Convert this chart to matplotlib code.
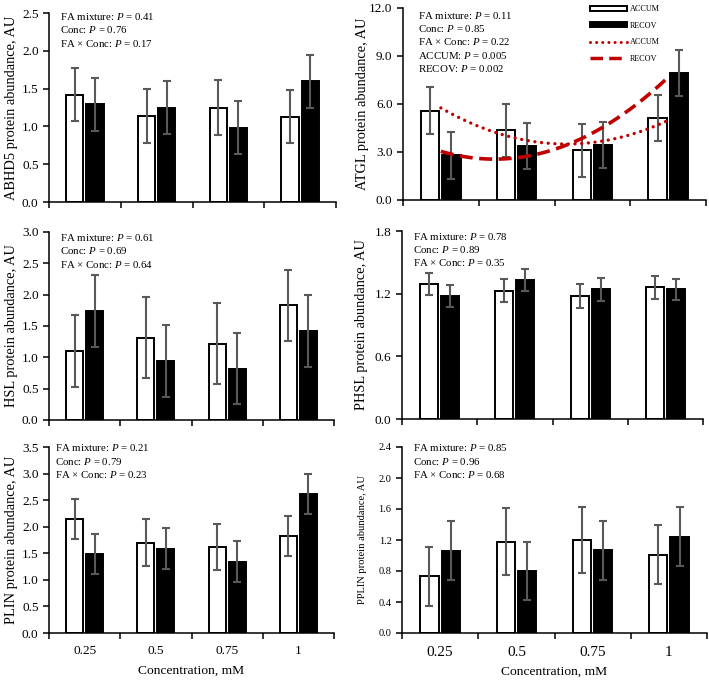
#!/usr/bin/env python
# coding: utf-8

import numpy as np
import matplotlib
matplotlib.use("Agg")
import matplotlib.pyplot as plt
from matplotlib.patches import Patch
from matplotlib.lines import Line2D

#========= DATA ==========================================================#

CONC = ["0.25", "0.5", "0.75", "1"]

ABHD5_ACCUM = [1.42, 1.14, 1.25, 1.13]
ABHD5_ACCUM_SE = [0.35, 0.36, 0.36, 0.35]
ABHD5_RECOV = [1.29, 1.25, 0.98, 1.60]
ABHD5_RECOV_SE = [0.35, 0.35, 0.35, 0.35]

ATGL_ACCUM = [5.59, 4.35, 3.10, 5.14]
ATGL_ACCUM_SE = [1.45, 1.65, 1.64, 1.45]
ATGL_RECOV = [2.79, 3.39, 3.43, 7.92]
ATGL_RECOV_SE = [1.45, 1.44, 1.45, 1.45]

HSL_ACCUM = [1.10, 1.31, 1.22, 1.83]
HSL_ACCUM_SE = [0.57, 0.645, 0.65, 0.57]
HSL_RECOV = [1.74, 0.94, 0.82, 1.42]
HSL_RECOV_SE = [0.57, 0.57, 0.57, 0.57]

PHSL_ACCUM = [1.29, 1.23, 1.18, 1.26]
PHSL_ACCUM_SE = [0.105, 0.108, 0.114, 0.108]
PHSL_RECOV = [1.18, 1.33, 1.24, 1.24]
PHSL_RECOV_SE = [0.105, 0.106, 0.106, 0.105]

PLIN_ACCUM = [2.15, 1.70, 1.62, 1.83]
PLIN_ACCUM_SE = [0.38, 0.44, 0.44, 0.38]
PLIN_RECOV = [1.49, 1.59, 1.34, 2.62]
PLIN_RECOV_SE = [0.38, 0.38, 0.385, 0.38]

PPLIN_ACCUM = [0.73, 1.18, 1.20, 1.01]
PPLIN_ACCUM_SE = [0.38, 0.43, 0.43, 0.38]
PPLIN_RECOV = [1.06, 0.80, 1.07, 1.24]
PPLIN_RECOV_SE = [0.38, 0.38, 0.38, 0.38]

P_ABHD5 = ["FA mixture: $P$ = 0.41", "Conc: $P$ = 0.76", "FA \u00d7 Conc: $P$ = 0.17"]
P_ATGL = ["FA mixture: $P$ = 0.11", "Conc: $P$ = 0.85", "FA \u00d7 Conc: $P$ = 0.22",
          "ACCUM: $P$ = 0.005", "RECOV: $P$ = 0.002"]
P_HSL = ["FA mixture: $P$ = 0.61", "Conc: $P$ = 0.69", "FA \u00d7 Conc: $P$ = 0.64"]
P_PHSL = ["FA mixture: $P$ = 0.78", "Conc: $P$ = 0.89", "FA \u00d7 Conc: $P$ = 0.35"]
P_PLIN = ["FA mixture: $P$ = 0.21", "Conc: $P$ = 0.79", "FA \u00d7 Conc: $P$ = 0.23"]
P_PPLIN = ["FA mixture: $P$ = 0.85", "Conc: $P$ = 0.96", "FA \u00d7 Conc: $P$ = 0.68"]

#========= STYLE =========================================================#

plt.rcParams["font.family"] = ["Liberation Serif", "DejaVu Serif"]
plt.rcParams["mathtext.fontset"] = "custom"
plt.rcParams["mathtext.rm"] = "Liberation Serif"
plt.rcParams["mathtext.it"] = "Liberation Serif:italic"

RED = "#C00000"
GREY = "#595959"
W = 709.0
H = 683.0

#========= PANEL FUNCTION ================================================#

def panel(rect, accum, accum_se, recov, recov_se, ymax, ystep, ylabel, ptext,
          ptext_xy, xlabels=False, fsy=9.5, fsl=10.4, fsx=9.6, fmt="%.1f",
          label_x=-0.108):
    x0, y0, x1, y1 = rect
    ax = fig.add_axes([x0/W, 1-y1/H, (x1-x0)/W, (y1-y0)/H])
    x = np.arange(1, len(CONC)+1)
    ax.bar(x-0.14, accum, 0.24, color="white", edgecolor="black", linewidth=1.4, zorder=2)
    ax.bar(x+0.14, recov, 0.24, color="black", edgecolor="black", linewidth=1.4, zorder=2)
    ax.errorbar(x-0.14, accum, yerr=accum_se, fmt="none", ecolor=GREY, elinewidth=1.5,
                capsize=3, capthick=1.5, zorder=3)
    ax.errorbar(x+0.14, recov, yerr=recov_se, fmt="none", ecolor=GREY, elinewidth=1.5,
                capsize=3, capthick=1.5, zorder=3)
    ax.set_xlim(0.5, len(CONC)+0.5)
    ax.set_ylim(0, ymax)
    ax.set_yticks(np.arange(0, ymax+ystep/2, ystep))
    ax.set_yticklabels([fmt % v for v in np.arange(0, ymax+ystep/2, ystep)], fontsize=fsy)
    ax.set_xticks(np.arange(0.5, len(CONC)+1, 1.0))
    ax.set_xticklabels([])
    ax.set_xticks(x, minor=True)
    ax.tick_params(axis="x", which="minor", length=0, pad=9)
    ax.tick_params(axis="both", which="major", direction="out", length=4, width=1.1,
                   color="black")
    if xlabels:
        ax.set_xticklabels(CONC, minor=True, fontsize=fsx)
        ax.set_xlabel("Concentration, mM", fontsize=9.7, labelpad=5)
    for s in ["top", "right"]:
        ax.spines[s].set_visible(False)
    for s in ["left", "bottom"]:
        ax.spines[s].set_linewidth(1.1)
    ax.set_ylabel(ylabel, fontsize=fsl)
    ax.yaxis.set_label_coords(label_x, 0.5)
    ax.text(ptext_xy[0], ptext_xy[1], "\n".join(ptext), transform=ax.transAxes,
            fontsize=7.8, va="top", ha="left", linespacing=1.25)
    return ax

#========= FIGURE ========================================================#

fig = plt.figure(figsize=(7.09, 6.83), dpi=100)

panel((49, 13, 336, 202), ABHD5_ACCUM, ABHD5_ACCUM_SE, ABHD5_RECOV, ABHD5_RECOV_SE,
      2.5, 0.5, "ABHD5 protein abundance, AU", P_ABHD5, (0.04, 1.01))

ax = panel((403, 8, 706, 200), ATGL_ACCUM, ATGL_ACCUM_SE, ATGL_RECOV, ATGL_RECOV_SE,
           12.0, 3.0, "ATGL protein abundance, AU", P_ATGL, (0.05, 0.99),
           label_x=-0.112)
# quadratic trend lines (Excel-style polynomial fit of the means)
xs = np.arange(1, len(CONC)+1)
xf = np.linspace(1, len(CONC), 100)
ax.plot(xf, np.polyval(np.polyfit(xs, ATGL_ACCUM, 2), xf), color=RED, linewidth=2.4,
        linestyle=(0, (0.01, 2.0)), dash_capstyle="round", zorder=4)
ax.plot(xf, np.polyval(np.polyfit(xs, ATGL_RECOV, 2), xf), color=RED, linewidth=2.6,
        linestyle=(0, (3.6, 1.8)), zorder=4)
handles = [Patch(facecolor="white", edgecolor="black", linewidth=1.4),
           Patch(facecolor="black", edgecolor="black", linewidth=1.4),
           Line2D([], [], color=RED, linewidth=2.2, linestyle=(0, (0.01, 2.0)),
                  dash_capstyle="round"),
           Line2D([], [], color=RED, linewidth=2.5, linestyle=(0, (3.6, 1.8)))]
fig.legend(handles, ["ACCUM", "RECOV", "ACCUM", "RECOV"], loc="upper left",
           bbox_to_anchor=(586/W, 1-1/H), frameon=False, fontsize=5.9, borderpad=0,
           handlelength=4.5, handleheight=0.6, handletextpad=0.4, labelspacing=1.05)

panel((49, 232, 334, 420), HSL_ACCUM, HSL_ACCUM_SE, HSL_RECOV, HSL_RECOV_SE,
      3.0, 0.5, "HSL protein abundance, AU", P_HSL, (0.04, 1.0))

panel((402, 231, 703, 419), PHSL_ACCUM, PHSL_ACCUM_SE, PHSL_RECOV, PHSL_RECOV_SE,
      1.8, 0.6, "PHSL protein abundance, AU", P_PHSL, (0.037, 1.0), label_x=-0.112)

panel((49, 447, 334, 633), PLIN_ACCUM, PLIN_ACCUM_SE, PLIN_RECOV, PLIN_RECOV_SE,
      3.5, 0.5, "PLIN protein abundance, AU", P_PLIN, (0.022, 1.025), xlabels=True)

panel((402, 447, 707, 633), PPLIN_ACCUM, PPLIN_ACCUM_SE, PPLIN_RECOV, PPLIN_RECOV_SE,
      2.4, 0.4, "PPLIN protein abundance, AU", P_PPLIN, (0.037, 1.025), xlabels=True,
      fsy=7.5, fsl=7.6, fsx=11, label_x=-0.115)

plt.savefig("out.png", dpi=100)
